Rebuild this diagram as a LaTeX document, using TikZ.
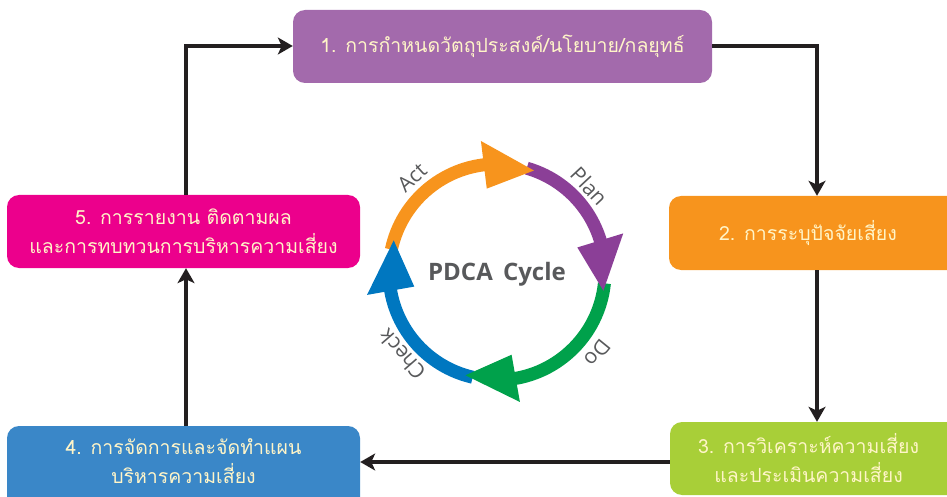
\documentclass[tikz,border=0pt]{standalone}
\usepackage{fontspec}
\newfontfamily\thaifont[Script=Thai]{Loma}
\newfontfamily\lblfont{Open Sans}
\usetikzlibrary{arrows.meta}
\definecolor{bxpurple}{HTML}{A36AAC}
\definecolor{bxorange}{HTML}{F7941D}
\definecolor{bxgreen}{HTML}{A8CF38}
\definecolor{bxblue}{HTML}{3A87C8}
\definecolor{bxpink}{HTML}{EC008C}
\definecolor{cyorange}{HTML}{F7941D}
\definecolor{cypurple}{HTML}{8B3F97}
\definecolor{cygreen}{HTML}{00A14B}
\definecolor{cyblue}{HTML}{0077C0}
\definecolor{cream}{HTML}{FFF5C8}
\definecolor{lblgray}{HTML}{58595B}
\definecolor{linek}{HTML}{231F20}
\tikzset{
  boxtxt/.style={font=\thaifont\fontsize{19.5}{29}\selectfont, text=cream, align=center},
  conn/.style={draw=linek, line width=3.5pt, -{Stealth[length=15pt,width=17pt,inset=4pt]}},
  cyarc/.style={line width=13pt},
  cylbl/.style={font=\lblfont\fontsize{21}{21}\selectfont, text=lblgray},
}
\begin{document}
\begin{tikzpicture}[x=1pt,y=-1pt]
\useasboundingbox (0,0) rectangle (947,497);
\clip (0,0) rectangle (947,497);
% boxes
\fill[bxpurple, rounded corners=12pt] (293,10) rectangle (712,83);
\fill[bxorange, rounded corners=12pt] (669,196) rectangle (980,270);
\fill[bxgreen, rounded corners=12pt] (670,422) rectangle (980,495);
\fill[bxblue, rounded corners=12pt] (7,426) rectangle (360,530);
\fill[bxpink, rounded corners=12pt] (7,195) rectangle (360,268);
% box nodes (anchors for connectors)
\node[boxtxt, minimum width=419pt, minimum height=73pt, inner sep=0pt] (b1) at (502.5,46.5) {1. การกำหนดวัตถุประสงค์/นโยบาย/กลยุทธ์};
\node[boxtxt, minimum width=278pt, minimum height=74pt, inner sep=0pt] (b2) at (808,233) {2. การระบุปัจจัยเสี่ยง};
\node[boxtxt, minimum width=277pt, minimum height=73pt, inner sep=0pt] (b3) at (808.5,458.5) {3. การวิเคราะห์ความเสี่ยง\\และประเมินความเสี่ยง};
\node[boxtxt, minimum width=353pt, minimum height=71pt, inner sep=0pt] (b4) at (183.5,461.5) {4. การจัดการและจัดทำแผน\\บริหารความเสี่ยง};
\node[boxtxt, minimum width=353pt, minimum height=73pt, inner sep=0pt] (b5) at (183.5,231.5) {5. การรายงาน ติดตามผล\\และการทบทวนการบริหารความเสี่ยง};
% connectors
\coordinate (c1) at (186,46);
\coordinate (c2) at (817,46);
\draw[conn] (b5.north -| c1) -- (c1) -- (b1.west |- c1);
\draw[conn] (b1.east |- c2) -- (c2) -- (b2.north -| c2);
\draw[conn] (b2.south -| c2) -- (b3.north -| c2);
\coordinate (c3) at (0,462);
\draw[conn] (b3.west |- c3) -- (b4.east |- c3);
\draw[conn] (b4.north -| c1) -- (b5.south -| c1);
% PDCA cycle
\begin{scope}[shift={(497,272)}, y=1pt]
  \def\R{108}
  \draw[cyarc, cyorange] (168:\R) arc[start angle=168, end angle=90, radius=\R];
  \draw[cyarc, cypurple] (74:\R) arc[start angle=74, end angle=10, radius=\R];
  \draw[cyarc, cygreen] (-6:\R) arc[start angle=-6, end angle=-88, radius=\R];
  \draw[cyarc, cyblue] (257:\R) arc[start angle=257, end angle=183, radius=\R];
  \fill[cyorange] (70:\R) -- (97:\R+24) -- (97:\R-24) -- cycle;
  \fill[cypurple] (-10:\R) -- (17:\R+24) -- (17:\R-24) -- cycle;
  \fill[cygreen] (-107:\R) -- (-80:\R+24) -- (-80:\R-24) -- cycle;
  \fill[cyblue] (163:\R) -- (190:\R+24) -- (190:\R-24) -- cycle;
  \node[cylbl, rotate=42] (lact) at (132:127) {Act};
  \node[cylbl, rotate=-47] (lplan) at (43:126) {Plan};
  \node[cylbl, rotate=-129] (ldo) at (-39:129) {Do};
  \node[cylbl, rotate=131] (lcheck) at (-139:126) {Check};
  \node[font=\lblfont\bfseries\fontsize{24}{24}\selectfont, text=lblgray] (title) at (0,-2) {PDCA\, Cycle};
\end{scope}
\end{tikzpicture}
\end{document}
